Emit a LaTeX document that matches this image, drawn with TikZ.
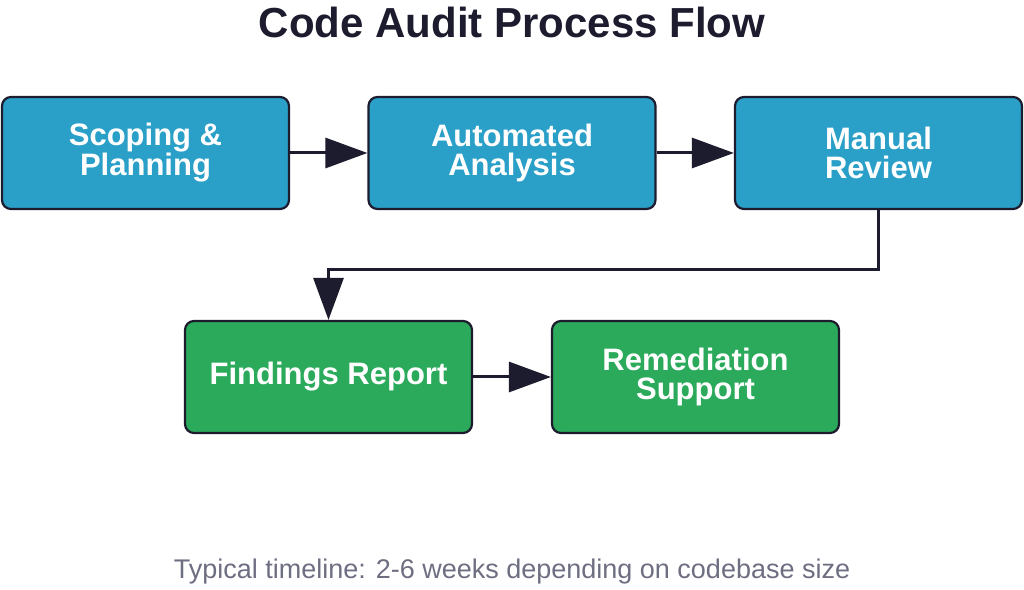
\documentclass[tikz,border=0pt]{standalone}
\usepackage{fontspec}
\setmainfont{Liberation Sans}
\usetikzlibrary{arrows.meta}
\definecolor{bx}{HTML}{2A9FC7}
\definecolor{gx}{HTML}{2AAA5A}
\definecolor{dk}{HTML}{1C1C2E}
\definecolor{ft}{HTML}{6E6E82}
\begin{document}
\begin{tikzpicture}[x=1pt,y=1pt,
  box/.style={draw=dk,line width=2.2pt,rounded corners=9pt,minimum width=287pt,minimum height=112pt,align=center,text=white,font=\fontsize{31}{29}\selectfont\bfseries},
  arr/.style={draw=dk,line width=3pt,-{Triangle[length=42pt,width=30pt]}}]
\useasboundingbox (0,0) rectangle (1024,589);
\node[font=\fontsize{42}{46}\selectfont\bfseries,text=dk] (t) at (512,567) {Code Audit Process Flow};
\node[box,fill=bx] (a) at (145.5,436) {Scoping \&\\Planning};
\node[box,fill=bx] (b) at (512,436) {Automated\\Analysis};
\node[box,fill=bx] (c) at (878.5,436) {Manual\\Review};
\node[box,fill=gx] (d) at (328.5,212) {Findings Report};
\node[box,fill=gx] (e) at (695.5,212) {Remediation\\Support};
\node[font=\fontsize{27}{30}\selectfont,text=ft] (f) at (512,17) {Typical timeline: 2-6 weeks depending on codebase size};
\draw[arr] (a) -- (b);
\draw[arr] (b) -- (c);
\draw[arr] (d) -- (e);
\coordinate (k1) at (878.5,319);
\coordinate (k2) at (328.5,319);
\draw[arr] (c.south) -- (k1) -- (k2) -- (d.north);
\end{tikzpicture}
\end{document}
